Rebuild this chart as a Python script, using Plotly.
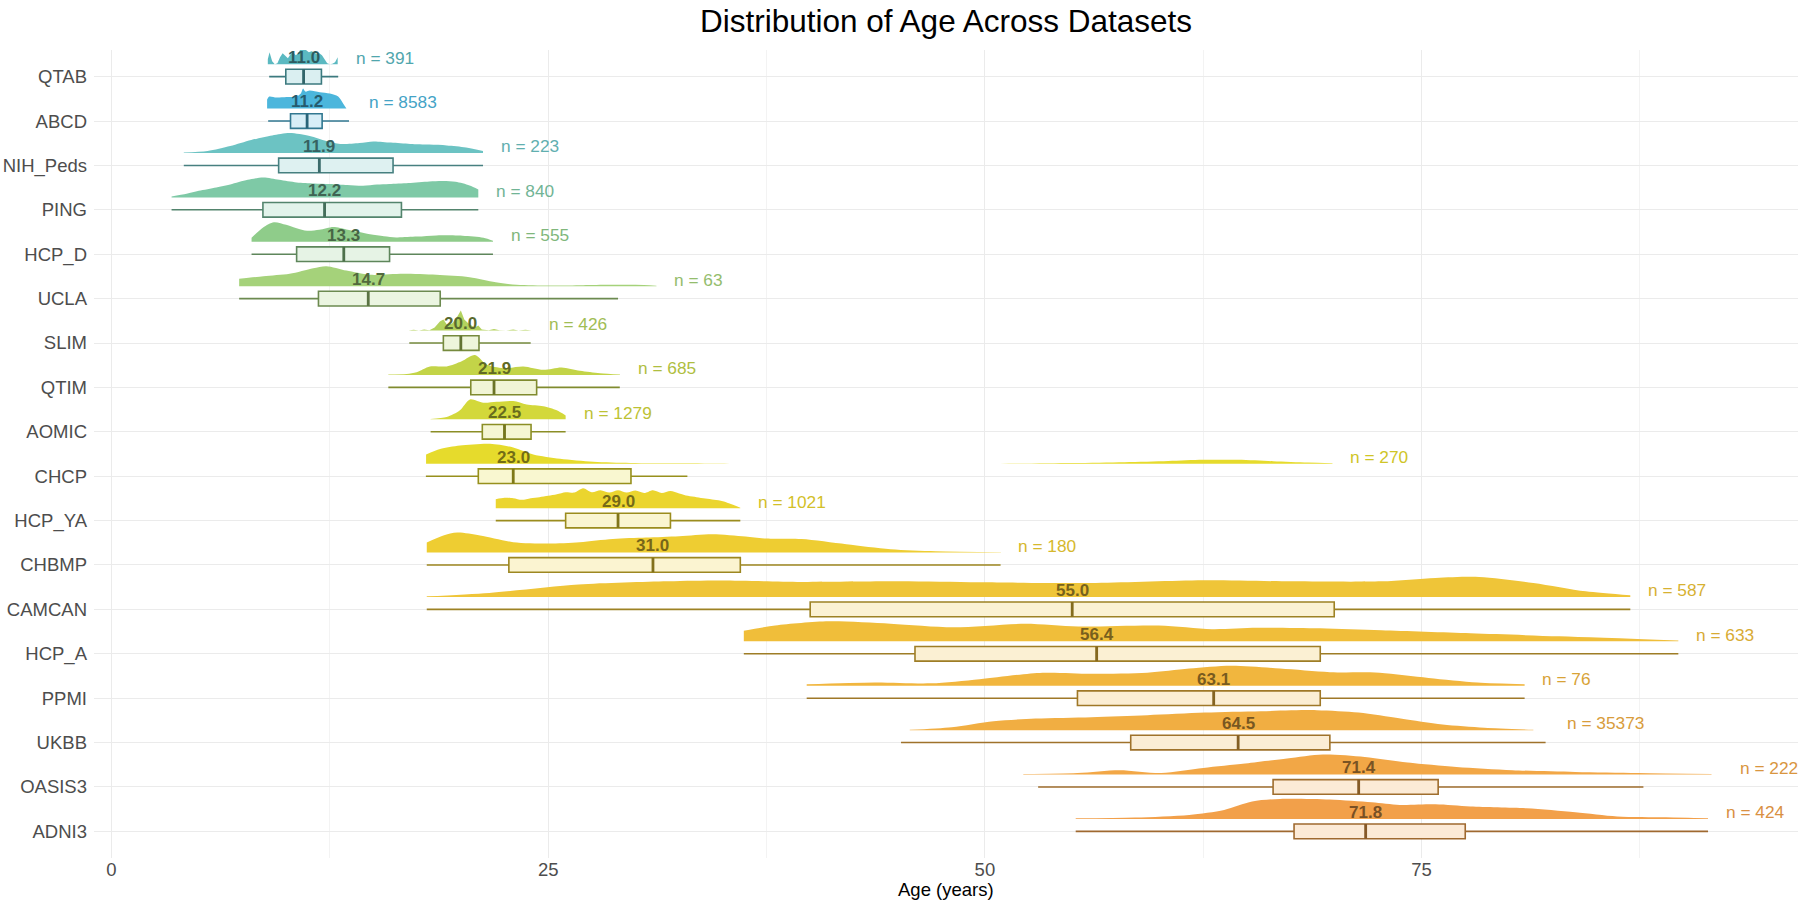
import plotly.graph_objects as go

FONT = "Liberation Sans, Arial, Helvetica, sans-serif"

# ---------------- data ----------------
datasets = ["QTAB", "ABCD", "NIH_Peds", "PING", "HCP_D", "UCLA", "SLIM", "QTIM", "AOMIC",
            "CHCP", "HCP_YA", "CHBMP", "CAMCAN", "HCP_A", "PPMI", "UKBB", "OASIS3", "ADNI3"]
n_subjects = [391, 8583, 223, 840, 555, 63, 426, 685, 1279, 270, 1021, 180, 587, 633, 76, 35373, 222, 424]

box_low = [9.03, 8.97, 4.14, 3.44, 8.02, 7.31, 17.05, 15.85, 18.27, 18.0, 22.0, 18.05, 18.05, 36.2, 39.8, 45.2, 53.05, 55.2]
box_q1 = [9.98, 10.25, 9.57, 8.67, 10.6, 11.85, 19.0, 20.57, 21.23, 21.0, 26.0, 22.75, 40.0, 46.0, 55.3, 58.35, 66.5, 67.7]
box_median = [11.0, 11.2, 11.9, 12.2, 13.3, 14.7, 20.0, 21.9, 22.5, 23.0, 29.0, 31.0, 55.0, 56.4, 63.1, 64.5, 71.4, 71.8]
box_q3 = [12.02, 12.06, 16.12, 16.6, 15.92, 18.82, 21.04, 24.34, 24.02, 29.74, 32.0, 36.0, 70.0, 69.2, 69.2, 69.75, 75.95, 77.5]
box_high = [12.98, 13.6, 21.27, 21.0, 21.84, 29.0, 24.0, 29.1, 26.0, 32.97, 36.0, 50.9, 86.95, 89.7, 80.9, 82.1, 87.7, 91.4]
age_max = [12.98, 13.7, 21.27, 21.0, 21.84, 31.2, 24.05, 29.1, 26.05, 69.9, 36.0, 50.9, 86.95, 89.7, 80.9, 82.3, 92.2, 91.4]

# density outlines (age, relative height)
qtab_age = [8.95, 9.05, 9.2, 9.35, 9.5, 9.65, 9.8, 9.95, 10.1, 10.25, 10.4, 10.55, 10.7, 10.85, 11.0, 11.15,
            11.3, 11.45, 11.6, 11.75, 11.9, 12.05, 12.2, 12.35, 12.5, 12.65, 12.8, 12.95]
qtab_h = [0.25, 0.6, 0.15, 0.0, 0.05, 0.35, 0.55, 0.4, 0.3, 0.5, 0.6, 0.45, 0.55, 0.8, 1.0, 0.7,
          0.6, 0.65, 0.6, 0.5, 0.55, 0.45, 0.25, 0.05, 0.0, 0.02, 0.1, 0.35]
abcd_age = [8.91, 9.03, 9.45, 10.02, 10.59, 10.84, 10.97, 11.1, 11.35, 11.93, 12.5, 12.98, 13.26, 13.45]
abcd_h = [0.45, 0.6, 0.55, 0.58, 0.6, 0.75, 1.0, 0.85, 0.9, 0.82, 0.75, 0.6, 0.25, 0.0]
nih_age = [4.14, 5.5, 6.8, 8.0, 9.2, 10.2, 11.35, 12.3, 13.1, 14.2, 15.0, 16.0, 17.1, 18.2, 19.2, 20.3, 21.27]
nih_h = [0.02, 0.1, 0.35, 0.65, 0.88, 1.0, 0.85, 0.6, 0.45, 0.5, 0.58, 0.52, 0.45, 0.42, 0.38, 0.28, 0.1]
ping_age = [3.44, 4.3, 5.0, 6.0, 6.8, 7.8, 8.7, 9.6, 10.6, 11.6, 12.5, 13.5, 14.4, 15.2, 15.9, 17.0, 18.2,
            19.0, 19.7, 20.5, 21.0]
ping_h = [0.05, 0.18, 0.33, 0.5, 0.65, 0.88, 1.0, 0.88, 0.75, 0.7, 0.67, 0.62, 0.58, 0.64, 0.67, 0.72, 0.8,
          0.82, 0.78, 0.6, 0.4]
hcpd_age = [8.02, 8.68, 9.3, 10.0, 10.6, 11.2, 11.9, 12.7, 13.45, 14.1, 14.8, 15.6, 16.3, 17.5, 18.6, 20.1, 21.3, 21.84]
hcpd_h = [0.2, 0.72, 0.98, 0.85, 0.68, 0.55, 0.6, 0.74, 0.62, 0.5, 0.38, 0.28, 0.22, 0.26, 0.32, 0.3, 0.2, 0.05]
ucla_age = [7.31, 8.7, 10.2, 11.55, 12.3, 13.45, 14.8, 16.7, 18.6, 20.5, 22.0, 23.2, 25.1, 27.0, 28.5, 30.0, 31.2]
ucla_h = [0.37, 0.5, 0.62, 0.9, 1.0, 0.78, 0.57, 0.62, 0.57, 0.45, 0.2, 0.07, 0.03, 0.05, 0.07, 0.07, 0.02]
slim_age = [17.0, 17.3, 17.6, 17.9, 18.2, 18.5, 18.8, 19.0, 19.2, 19.5, 19.8, 20.0, 20.2, 20.5, 20.8, 21.0,
            21.2, 21.6, 21.9, 22.2, 22.6, 23.0, 23.3, 23.7, 24.05]
slim_h = [0.0, 0.04, 0.0, 0.06, 0.02, 0.15, 0.45, 0.55, 0.3, 0.35, 0.7, 1.0, 0.55, 0.3, 0.15, 0.25,
          0.05, 0.02, 0.08, 0.02, 0.01, 0.05, 0.01, 0.04, 0.0]
qtim_age = [15.85, 16.9, 17.47, 18.23, 19.19, 20.05, 20.81, 21.48, 22.43, 23.58, 24.72, 25.77, 26.82, 27.97, 29.11]
qtim_h = [0.02, 0.05, 0.14, 0.43, 0.43, 0.69, 1.0, 0.52, 0.34, 0.43, 0.26, 0.38, 0.21, 0.09, 0.02]
aomic_age = [18.27, 19.19, 19.95, 20.52, 21.29, 22.05, 23.0, 23.77, 24.72, 25.49, 26.0]
aomic_h = [0.02, 0.12, 0.46, 1.0, 0.83, 0.88, 0.92, 0.75, 0.66, 0.46, 0.2]
chcp_age = [18.01, 18.81, 19.95, 21.67, 23.0, 24.15, 25.68, 27.59, 29.69, 32.55, 35.41, 40.0, 45.0, 50.0,
            55.0, 58.0, 60.5, 62.5, 64.5, 66.5, 68.5, 69.9]
chcp_h = [0.47, 0.74, 0.91, 1.0, 0.82, 0.47, 0.25, 0.1, 0.04, 0.02, 0.005, 0.0, 0.0, 0.003,
          0.04, 0.08, 0.14, 0.2, 0.2, 0.13, 0.06, 0.03]
hcpya_age = [22.0, 22.5, 23.0, 23.5, 24.0, 24.5, 25.0, 25.5, 26.0, 26.5, 27.0, 27.5, 28.0, 28.5, 29.0, 29.5,
             30.0, 30.5, 31.0, 31.5, 32.0, 32.5, 33.0, 33.5, 34.0, 34.5, 35.0, 35.5, 36.0]
hcpya_h = [0.45, 0.52, 0.5, 0.42, 0.5, 0.55, 0.62, 0.7, 0.8, 0.78, 1.0, 0.8, 0.9, 0.78, 0.9, 0.78,
           0.88, 0.76, 0.9, 0.76, 0.86, 0.74, 0.62, 0.55, 0.48, 0.42, 0.35, 0.2, 0.02]
chbmp_age = [18.05, 19.0, 19.8, 21.1, 23.0, 25.0, 26.8, 28.7, 30.6, 32.5, 34.4, 36.3, 37.5, 39.5, 42.07,
             44.6, 47.19, 50.92]
chbmp_h = [0.5, 0.85, 1.0, 0.85, 0.52, 0.45, 0.52, 0.68, 0.75, 0.82, 0.92, 0.8, 0.7, 0.68, 0.42,
           0.17, 0.07, 0.02]
camcan_age = [18.05, 21.63, 26.74, 31.85, 34.9, 39.5, 45.13, 49.7, 56.35, 62.5, 67.6, 72.7, 75.8, 78.3,
              81.4, 84.4, 86.95]
camcan_h = [0.03, 0.2, 0.62, 0.78, 0.82, 0.75, 0.78, 0.73, 0.7, 0.83, 0.78, 0.78, 0.95, 1.0, 0.7, 0.28, 0.08]
hcpa_age = [36.2, 38.0, 41.07, 44.6, 48.2, 52.3, 55.35, 59.95, 63.0, 65.6, 69.2, 72.7, 77.8, 82.9, 89.7]
hcpa_h = [0.53, 0.79, 1.0, 0.88, 0.7, 0.88, 0.74, 0.79, 0.61, 0.68, 0.65, 0.55, 0.4, 0.25, 0.04]
ppmi_age = [39.8, 43.7, 46.9, 49.7, 53.3, 56.1, 59.3, 61.7, 64.1, 66.9, 69.75, 72.6, 75.4, 78.2, 80.9]
ppmi_h = [0.07, 0.16, 0.12, 0.33, 0.65, 0.6, 0.65, 0.86, 1.0, 0.86, 0.68, 0.65, 0.39, 0.16, 0.07]
ukbb_age = [45.7, 48.1, 50.5, 52.9, 56.1, 59.3, 62.6, 65.8, 69.0, 71.4, 73.8, 76.2, 78.6, 81.4]
ukbb_h = [0.02, 0.15, 0.45, 0.58, 0.65, 0.75, 0.88, 0.95, 1.0, 0.88, 0.58, 0.28, 0.12, 0.02]
oasis_age = [52.2, 55.3, 57.7, 60.1, 62.5, 64.9, 67.3, 69.35, 71.75, 74.2, 77.0, 80.2, 83.8, 87.4, 91.6]
oasis_h = [0.03, 0.08, 0.22, 0.08, 0.33, 0.55, 0.8, 1.0, 0.88, 0.6, 0.38, 0.22, 0.13, 0.08, 0.03]
adni_age = [55.2, 58.6, 61.7, 63.7, 65.3, 66.9, 69.75, 72.15, 73.75, 75.8, 77.8, 81.0, 83.8, 86.2, 89.0, 91.4]
adni_h = [0.03, 0.07, 0.2, 0.45, 0.87, 1.0, 0.97, 0.83, 0.7, 0.73, 0.62, 0.53, 0.33, 0.12, 0.08, 0.03]

density_ages = [qtab_age, abcd_age, nih_age, ping_age, hcpd_age, ucla_age, slim_age, qtim_age, aomic_age,
                chcp_age, hcpya_age, chbmp_age, camcan_age, hcpa_age, ppmi_age, ukbb_age, oasis_age, adni_age]
density_heights = [qtab_h, abcd_h, nih_h, ping_h, hcpd_h, ucla_h, slim_h, qtim_h, aomic_h,
                   chcp_h, hcpya_h, chbmp_h, camcan_h, hcpa_h, ppmi_h, ukbb_h, oasis_h, adni_h]

# ---------------- style ----------------
palette = ["#5bb9c1", "#4cb6dc", "#6cc3c3", "#7ec9a6", "#8fcc8a", "#a5d27a", "#b3d25e", "#c3d448", "#d3d83a",
           "#e6db2c", "#ebd52e", "#eecd32", "#efc538", "#f0be3a", "#f1b63e", "#f1ae42", "#f2a746", "#f2a04a"]
spiky = {"QTAB", "SLIM"}
BASE_OFF = 0.28    # slab baseline above category line (category units)
SLAB_H = 0.45      # max slab height
BOX_W = 0.33
LABEL_OFF = 0.43


def hex2rgb(h):
    h = h.lstrip("#")
    return tuple(int(h[i:i + 2], 16) for i in (0, 2, 4))


def scale(h, f):
    r, g, b = hex2rgb(h)
    return "rgb(%d,%d,%d)" % (r * f, g * f, b * f)


def tint(h, f):
    r, g, b = hex2rgb(h)
    return "rgb(%d,%d,%d)" % (255 - (255 - r) * f, 255 - (255 - g) * f, 255 - (255 - b) * f)


fig = go.Figure()

# slabs (half densities)
for i, name in enumerate(datasets):
    ages = density_ages[i]
    hs = density_heights[i]
    base = i - BASE_OFF
    fig.add_trace(go.Scatter(x=[ages[0], ages[-1]], y=[base, base], mode="lines",
                             line=dict(width=0), hoverinfo="skip", showlegend=False))
    fig.add_trace(go.Scatter(x=ages, y=[base - h * SLAB_H for h in hs], mode="lines",
                             line=dict(width=0, shape="linear" if name in spiky else "spline", smoothing=0.8),
                             fill="tonexty", fillcolor=palette[i], hoverinfo="skip", showlegend=False))

# boxes
for i, name in enumerate(datasets):
    fig.add_trace(go.Box(y=[i], q1=[box_q1[i]], median=[box_median[i]], q3=[box_q3[i]],
                         lowerfence=[box_low[i]], upperfence=[box_high[i]], orientation="h",
                         width=BOX_W, whiskerwidth=0, boxpoints=False,
                         fillcolor=tint(palette[i], 0.22),
                         line=dict(color=scale(palette[i], 0.66), width=1.6),
                         hoverinfo="skip", showlegend=False))
    fig.add_trace(go.Scatter(x=[box_median[i], box_median[i]], y=[i - BOX_W / 2, i + BOX_W / 2],
                             mode="lines", line=dict(color=scale(palette[i], 0.55), width=2.8),
                             hoverinfo="skip", showlegend=False))

annotations = []
for i, name in enumerate(datasets):
    annotations.append(dict(x=box_median[i], y=i - LABEL_OFF, xref="x", yref="y",
                            text="<b>%.1f</b>" % box_median[i], showarrow=False,
                            xanchor="center", yanchor="middle",
                            font=dict(family=FONT, size=17, color=scale(palette[i], 0.5))))
    annotations.append(dict(x=age_max[i] + 0.9, y=i - LABEL_OFF, xref="x", yref="y",
                            text="n = %d" % n_subjects[i], showarrow=False,
                            xanchor="left", yanchor="middle",
                            font=dict(family=FONT, size=17.3, color=scale(palette[i], 0.9))))
annotations.append(dict(x=0.5, y=-0.0395, xref="paper", yref="paper", text="Age (years)",
                        showarrow=False, xanchor="center", yanchor="middle",
                        font=dict(family=FONT, size=18.5, color="black")))

fig.update_layout(
    width=1800, height=900,
    margin=dict(l=94, r=2, t=50, b=42, autoexpand=False),
    plot_bgcolor="white", paper_bgcolor="white",
    showlegend=False,
    font=dict(family=FONT),
    title=dict(text="Distribution of Age Across Datasets", x=0.5, xref="paper", xanchor="center",
               y=1 - 21 / 900, yref="container", yanchor="middle",
               font=dict(family=FONT, size=31.5, color="black")),
    annotations=annotations,
)
fig.update_xaxes(range=[-1.0, 96.55], tickvals=[0, 25, 50, 75], ticktext=["0", "25", "50", "75"],
                 automargin=False, ticklabelstandoff=-2,
                 showgrid=True, gridcolor="#ebebeb", gridwidth=1.1, zeroline=False, showline=False,
                 ticks="", tickfont=dict(family=FONT, size=18.5, color="#4d4d4d"),
                 minor=dict(tickvals=[12.5, 37.5, 62.5, 87.5], showgrid=True, gridcolor="#f3f3f3", gridwidth=0.7))
fig.update_yaxes(range=[17.6, -0.6], tickvals=list(range(len(datasets))), ticktext=datasets,
                 automargin=False, ticklabelstandoff=6,
                 showgrid=True, gridcolor="#ebebeb", gridwidth=1.1, zeroline=False, showline=False,
                 ticks="", tickfont=dict(family=FONT, size=18.5, color="#4d4d4d"))

fig.write_html("out.html", config={"displayModeBar": False},
               post_script="document.body.style.margin='0px';")
